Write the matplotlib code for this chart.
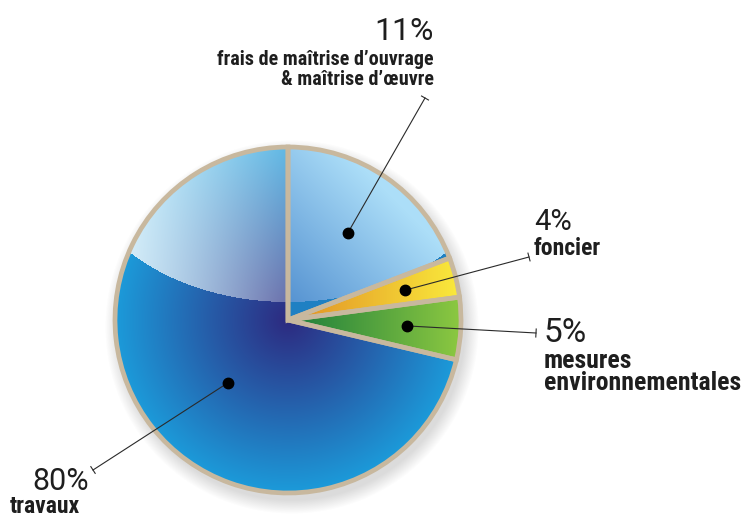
import numpy as np
import matplotlib
matplotlib.use('Agg')
import matplotlib.pyplot as plt
from matplotlib import font_manager

W, H = 747, 517

# data
pct = [11, 4, 5, 80]
names = ['frais de maîtrise d’ouvrage\n& maîtrise d’œuvre', 'foncier',
         'mesures\nenvironnementales', 'travaux']
# wedge sizes as drawn in the picture (degrees) - the picture is not to scale
drawn = [69.0, 13.4, 20.9, 256.7]

cx, cy, R = 288, H - 320, 173
edge = '#c8b89e'
txt = '#1e1e1e'

have = set(f.name for f in font_manager.fontManager.ttflist)


def pick(cands):
    for f in cands:
        if f in have:
            return [f, 'DejaVu Sans']
    return ['DejaVu Sans']


fam = pick(['Roboto Condensed', 'Archivo Narrow', 'PT Sans Narrow', 'Liberation Sans Narrow'])
fam_pct = pick(['Roboto', 'Lato', 'Open Sans'])

fig = plt.figure(figsize=(W / 100, H / 100), dpi=100)
ax = fig.add_axes([0, 0, 1, 1])

wedges, _ = ax.pie(drawn, center=(cx, cy), radius=R, startangle=90, counterclock=False,
                   wedgeprops=dict(facecolor='none', edgecolor=edge, linewidth=3.4, zorder=3))
ax.set_aspect('equal')
ax.axis('off')

# pixel grid (y up)
X, Y = np.meshgrid(np.arange(W) + 0.5, np.arange(H) + 0.5)
D = np.hypot(X - cx, Y - cy) / R


def lerp(c0, c1, t):
    t = np.clip(t, 0, 1)[..., None]
    return (np.array(c0) * (1 - t) + np.array(c1) * t) / 255.0


# highlight ellipse (gloss) on upper part of the pie
inside = ((X - 288) / 214.0) ** 2 + ((Y - (H - 150)) / 152.0) ** 2 < 1

# travaux: radial gradient, whitened in the gloss area
stops = [0, 0.45, 1.0]
blue = np.stack([np.interp(D, stops, [45, 38, 28]),
                 np.interp(D, stops, [42, 92, 155]),
                 np.interp(D, stops, [128, 168, 218])], axis=-1) / 255.0
a = np.interp(X, [118, 288], [0.85, 0.3])[..., None]
blue = np.where(inside[..., None], blue * (1 - a) + a, blue)

# frais: linear gradient light top-right, darker lower-left
s = ((X - cx) / 170.0 + (Y - cy) / 170.0) / 2
lb = lerp((78, 140, 206), (172, 222, 248), s * 1.5)
lb = np.where(inside[..., None], lb, np.array([31, 128, 195]) / 255.0)

yel = lerp((226, 148, 38), (250, 234, 60), (X - 300) / 160.0)
grn = lerp((35, 130, 60), (140, 200, 65), (X - 300) / 160.0)

fills = [lb, yel, grn, blue]
for w, img in zip(wedges, fills):
    im = ax.imshow(img, extent=(0, W, 0, H), origin='lower', zorder=2, interpolation='bilinear')
    im.set_clip_path(w)

# soft shadow lower right
Ds = np.hypot(X - (cx + 4), Y - (cy - 7))
sa = 0.28 * np.clip(1 - (Ds - R) / 14.0, 0, 1) * (Ds > R - 10)
shadow = np.zeros((H, W, 4))
shadow[..., :3] = 0.5
shadow[..., 3] = sa
ax.imshow(shadow, extent=(0, W, 0, H), origin='lower', zorder=1)
ax.set_xlim(0, W)
ax.set_ylim(0, H)

# dots and leader lines
starts = 90 - np.concatenate([[0], np.cumsum(drawn)[:-1]])
mids = starts - np.array(drawn) / 2
mids[3] += 8
rfrac = [0.61, 0.70, 0.69, 0.50]
ends = [(425, 98), (529, 257), (536, 333), (93, 470)]
for m, rf, (ex, ey) in zip(mids, rfrac, ends):
    dx = cx + rf * R * np.cos(np.radians(m))
    dy = cy + rf * R * np.sin(np.radians(m))
    ey = H - ey
    ax.plot([dx, ex], [dy, ey], color='#2a2a2a', lw=0.8, zorder=4)
    ax.plot(dx, dy, 'o', color='black', ms=7.5, zorder=5)
    v = np.array([ex - dx, ey - dy])
    n = np.array([-v[1], v[0]]) / np.hypot(*v) * 4
    ax.plot([ex - n[0], ex + n[0]], [ey - n[1], ey + n[1]], color='#2a2a2a', lw=0.8, zorder=4)

# labels: (x, ha, pct baseline, pct size, first name baseline, name size, line step)
lay = [(434, 'right', 40, 23, 65, 14.5, 20),
       (534, 'left', 230, 21, 255, 17, 22),
       (544, 'left', 342, 24, 368, 18.5, 22),
       (89, 'right', 490, 22, 513, 17, 22)]
for i, (x, ha, pb, ps, nb, ns, step) in enumerate(lay):
    ax.text(x, H - pb, f'{pct[i]}%', ha=ha, va='baseline', fontsize=ps, fontweight='normal',
            color=txt, family=fam_pct)
    for k, line in enumerate(names[i].split('\n')):
        lx = 10 if i == 3 else x
        lha = 'left' if i == 3 else ha
        ax.text(lx, H - nb - k * step, line, ha=lha, va='baseline', fontsize=ns,
                fontweight='bold', color=txt, family=fam)

fig.savefig('out.png', dpi=100)
